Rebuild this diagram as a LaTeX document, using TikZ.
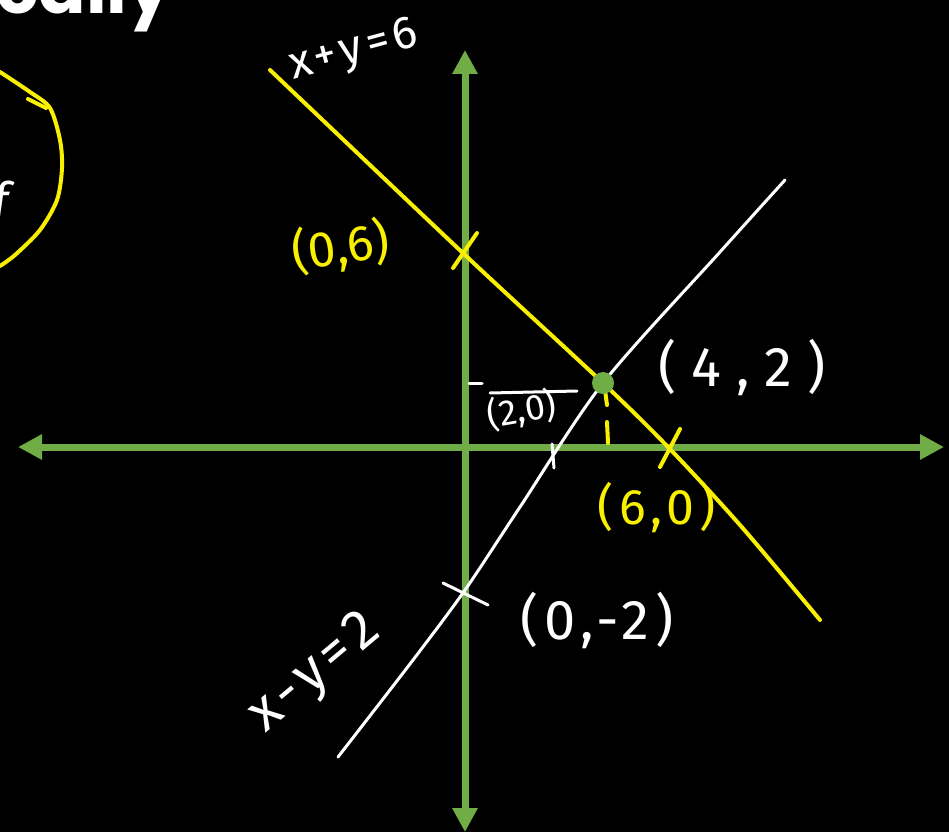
\documentclass[tikz,border=0pt]{standalone}
\usepackage{fontspec}
\newfontfamily\hand{Fira Sans}
\newfontfamily\handwide{Fira Sans}[LetterSpace=10]
\newfontfamily\titlefont{Poppins}
\usetikzlibrary{arrows.meta}
\definecolor{axisgreen}{HTML}{70AD47}
\definecolor{pen}{HTML}{F8F000}
\tikzset{
  axis/.style={draw=axisgreen, line width=7pt, {Triangle[length=24pt,width=24pt]}-{Triangle[length=24pt,width=24pt]}},
  yline/.style={draw=pen, line width=4pt, line cap=round, line join=round},
  wline/.style={draw=white, line width=3pt, line cap=round, line join=round},
  wlabel/.style={text=white, font=\hand\fontsize{50}{50}\selectfont, inner sep=0pt},
  ylabel/.style={text=pen, font=\hand\fontsize{50}{50}\selectfont, inner sep=0pt},
}
\begin{document}
\begin{tikzpicture}[x=1pt,y=-1pt]
\fill[black] (0,0) rectangle (949,832);
\useasboundingbox (0,0) rectangle (949,832);
\clip (0,0) rectangle (949,832);
% title fragment
\node[anchor=base east, text=white, font=\titlefont\bfseries\fontsize{70}{70}\selectfont, inner sep=0pt] (title) at (172,14) {Graphically};
% axes
\coordinate (xl) at (18,447);
\coordinate (xr) at (944,447);
\coordinate (yt) at (465,50);
\coordinate (yb) at (465,832);
\draw[axis] (xl) -- (xr);
\draw[axis] (yt) -- (yb);
% yellow line x+y=6
\draw[yline] plot[smooth] coordinates {(270,70) (465,255) (603,383) (668,447) (740,525) (820,620)};
% white line x-y=2
\draw[wline] plot[smooth] coordinates {(338,757) (413,660) (465,590) (520,507) (603,383) (720,252) (785,180)};
% tick marks
\draw[yline] (453,268) -- (477,233);
\draw[yline] (660,467) -- (680,429);
\draw[wline] (443,583) -- (488,605);
\draw[wline] (552,444) -- (554,468);
\draw[yline] (605,390) -- (607,405);
\draw[yline] (607,422) -- (608,443);
\draw[wline] (469,383) -- (482,383);
\draw[wline] (490,393) -- (577,391);
% intersection dot
\fill[axisgreen] (603,383) circle (11pt);
\node[inner sep=0pt] (p42) at (603,383) {};
% left yellow circle fragment
\draw[yline] plot[smooth] coordinates {(0,72) (30,92) (50,108) (60,140) (62,168) (57,200) (40,230) (15,255) (0,266)};
\draw[yline] (28,99) -- (46,108);
\node[wlabel, anchor=center] (f) at (4,205) {\textit{f}};
% labels
\node[wlabel, rotate=15, font=\handwide\fontsize{46}{46}\selectfont] (l1) at (354,52) {x+y=6};
\node[ylabel, rotate=8] (l06) at (341,247) {(0,6)};
\node[wlabel, rotate=10, font=\hand\fontsize{36}{36}\selectfont] (l20) at (522,410) {(2,0)};
\node[wlabel, font=\hand\fontsize{56}{56}\selectfont] (l42) at (742,367) {( 4 , 2 )};
\node[ylabel, font=\handwide\fontsize{50}{50}\selectfont] (l60) at (657,508) {(6,0)};
\node[wlabel, font=\handwide\fontsize{56}{56}\selectfont] (l02) at (597,620) {(0,-2)};
\node[wlabel, rotate=40, font=\handwide\fontsize{56}{56}\selectfont] (l2) at (316,674) {x-y=2};
\end{tikzpicture}
\end{document}
